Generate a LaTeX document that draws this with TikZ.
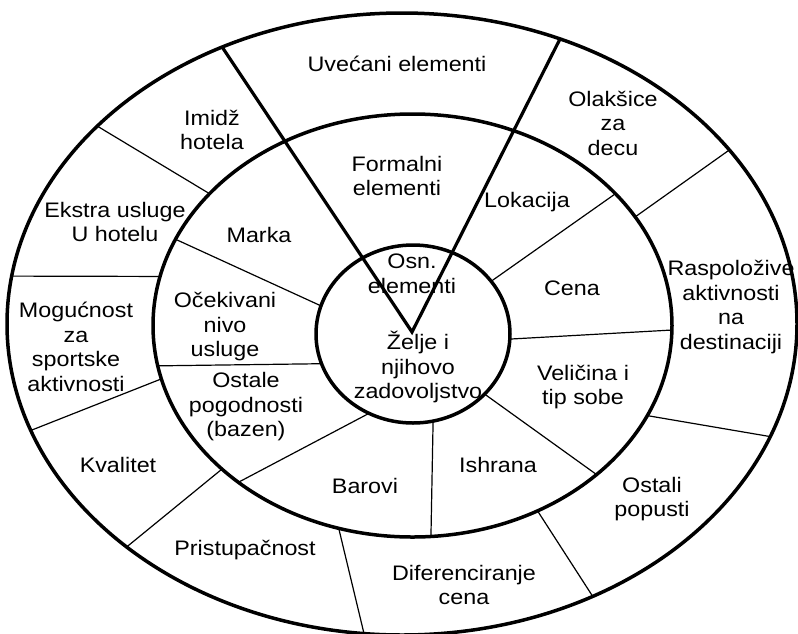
\documentclass[tikz,border=0pt]{standalone}
\usepackage{fontspec}
\setmainfont{Liberation Sans}[FakeStretch=1.11]
\usetikzlibrary{shapes.geometric}

\begin{document}
\begin{tikzpicture}[
  x=1pt, y=-1pt,
  font=\fontsize{21}{24.5}\selectfont,
  ring/.style={ellipse,draw,line width=3.5pt,inner sep=0pt,outer sep=0pt},
  spoke/.style={line width=1.2pt},
  wedge/.style={line width=3.2pt,line join=miter},
  lbl/.style={align=center,inner sep=1pt}
]
\clip (0,0) rectangle (798,633);

% ---- rings ----
\node[ring,minimum width=790pt,minimum height=622pt] (outer) at (402,324) {};
\node[ring,minimum width=519pt,minimum height=423pt] (mid) at (412.5,325.5) {};
\node[ring,minimum width=194pt,minimum height=178pt] (core) at (413,334) {};

% ---- wedge: extended elements ----
\coordinate (apex) at (412,332);
\draw[wedge] (outer.123.6) -- (apex) -- (outer.61.3);

% ---- spokes between core and middle ring ----
\draw[spoke] (core.163) -- (mid.160.8);
\draw[spoke] (core.198.4) -- (mid.189);
\draw[spoke] (core.241.8) -- (mid.222.7);
\draw[spoke] (core.283.3) -- (mid.275.9);
\draw[spoke] (core.320.9) -- (mid.321.9);
\draw[spoke] (core.357) -- (mid.359.7);
\draw[spoke] (core.34) -- (mid.33);

% ---- spokes between middle and outer ring ----
\draw[spoke] (mid.147.8) -- (outer.147.1);
\draw[spoke] (mid.169.9) -- (outer.173.5);
\draw[spoke] (mid.192.1) -- (outer.196.6);
\draw[spoke] (mid.217) -- (outer.219.7);
\draw[spoke] (mid.250.1) -- (outer.263.2);
\draw[spoke] (mid.304.2) -- (outer.305.7);
\draw[spoke] (mid.339.9) -- (outer.343.1);
\draw[spoke] (mid.26.8) -- (outer.28.1);

% ---- outer ring labels ----
\node[lbl] (uvecani) at (397,64) {Uvećani elementi};
\node[lbl] (imidz) at (212,130) {Imidž\\hotela};
\node[lbl] (olaksice) at (613,123) {Olakšice\\za\\decu};
\node[lbl] (ekstra) at (115,222) {Ekstra usluge\\U hotelu};
\node[lbl] (raspolozive) at (731,307) {Raspoložive\\aktivnosti\\na\\destinaciji};
\node[lbl] (mogucnost) at (76,347) {Mogućnost\\za\\sportske\\aktivnosti};
\node[lbl] (kvalitet) at (118,465) {Kvalitet};
\node[lbl] (pristup) at (245,550) {Pristupačnost};
\node[lbl] (diferenc) at (464,585) {Diferenciranje\\cena};
\node[lbl] (popusti) at (652,499) {Ostali\\popusti};

% ---- middle ring labels ----
\node[lbl] (formalni) at (397,176) {Formalni\\elementi};
\node[lbl] (lokacija) at (527,202) {Lokacija};
\node[lbl] (marka) at (259,235) {Marka};
\node[lbl] (cena) at (572,288) {Cena};
\node[lbl] (ocekivani) at (225,327) {Očekivani\\nivo\\usluge};
\node[lbl] (ostale) at (246,407) {Ostale\\pogodnosti\\(bazen)};
\node[lbl] (velicina) at (583,387) {Veličina i\\tip sobe};
\node[lbl] (barovi) at (365,486) {Barovi};
\node[lbl] (ishrana) at (498,465) {Ishrana};

% ---- core labels ----
\node[lbl] (osn) at (412,274) {Osn.\\elementi};
\node[lbl] (zelje) at (418,367) {Želje i\\njihovo\\zadovoljstvo};

\end{tikzpicture}
\end{document}
